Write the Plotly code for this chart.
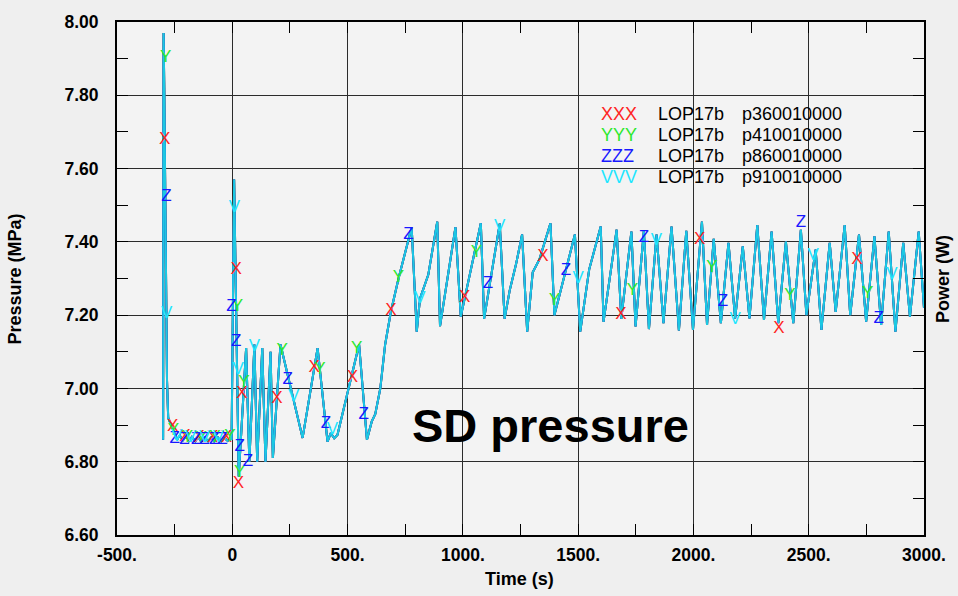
import plotly.graph_objects as go

# ---------------- data ----------------
time_s = [-300, -298, -295, -291, -287, -283, -278, -268, -258, -250,
          -240, -228, -215, -200, -188, -175, -160, -148, -135, -120,
          -105, -92, -78, -62, -48, -34, -20, -8, -3, 8,
          28, 60, 74, 96, 108, 130, 144, 166, 176, 209,
          305, 370, 413, 427, 442, 456, 550, 584, 598, 605,
          620, 642, 663, 688, 721, 778, 800, 814, 850, 889,
          901, 968, 991, 1078, 1092, 1160, 1181, 1203, 1231, 1257,
          1279, 1303, 1332, 1380, 1397, 1486, 1509, 1548, 1598, 1610,
          1667, 1687, 1731, 1749, 1785, 1807, 1840, 1870, 1905, 1937,
          1969, 1998, 2037, 2059, 2088, 2119, 2152, 2181, 2214, 2243,
          2277, 2306, 2339, 2368, 2401, 2433, 2466, 2490, 2530, 2555,
          2591, 2617, 2656, 2680, 2718, 2749, 2785, 2814, 2847, 2876,
          2910, 2939, 2977, 3000]

pressure_mpa = [6.86, 7.97, 7.82, 7.58, 7.30, 7.02, 6.92, 6.905, 6.89, 6.875,
                6.860, 6.872, 6.858, 6.870, 6.857, 6.868, 6.856, 6.868, 6.855, 6.866,
                6.856, 6.866, 6.855, 6.866, 6.856, 6.865, 6.857, 6.866, 6.86, 7.57,
                6.76, 7.11, 6.80, 7.12, 6.80, 7.11, 6.80, 7.10, 6.81, 7.12,
                6.865, 7.11, 6.855, 6.878, 6.864, 6.873, 7.12, 6.86, 6.89, 6.91,
                6.93, 7.00, 7.12, 7.21, 7.30, 7.44, 7.155, 7.245, 7.31, 7.455,
                7.17, 7.44, 7.196, 7.451, 7.19, 7.45, 7.19, 7.267, 7.34, 7.42,
                7.155, 7.317, 7.352, 7.451, 7.20, 7.42, 7.155, 7.325, 7.442, 7.182,
                7.433, 7.19, 7.428, 7.169, 7.43, 7.162, 7.42, 7.178, 7.442, 7.158,
                7.43, 7.16, 7.455, 7.173, 7.408, 7.178, 7.397, 7.191, 7.388, 7.191,
                7.446, 7.187, 7.428, 7.178, 7.401, 7.178, 7.433, 7.20, 7.379, 7.16,
                7.397, 7.209, 7.446, 7.20, 7.42, 7.182, 7.415, 7.173, 7.428, 7.155,
                7.397, 7.196, 7.428, 7.22]

# symbol markers of each curve (time, pressure)
x_mark_t = [-293, -259, -205, -145, -85, -25, 17, 27, 42, 194, 355, 521, 688,
            1008, 1347, 1685, 2027, 2371, 2709]
x_mark_p = [7.678, 6.896, 6.868, 6.866, 6.866, 6.865, 7.323, 6.74, 6.985, 6.972,
            7.057, 7.030, 7.213, 7.248, 7.360, 7.202, 7.406, 7.164, 7.352]

y_mark_t = [-289, -255, -195, -135, -75, -10, 22, 32, 50, 216, 380, 540, 721,
            1059, 1397, 1735, 2080, 2418, 2756]
y_mark_p = [7.903, 6.885, 6.866, 6.864, 6.865, 6.868, 7.224, 6.77, 7.016, 7.104,
            7.052, 7.108, 7.303, 7.37, 7.239, 7.266, 7.330, 7.252, 7.258]

z_mark_t = [-285, -250, -207, -157, -121, -78, -43, -4, 17, 32, 68, 240, 406, 570,
            764, 1109, 1447, 1785, 2128, 2466, 2804]
z_mark_p = [7.522, 6.862, 6.860, 6.860, 6.860, 6.860, 6.860, 7.223, 7.128, 6.842,
            6.801, 7.025, 6.904, 6.927, 7.420, 7.285, 7.321, 7.411, 7.236, 7.451, 7.191]

v_mark_t = [-285, -240, -180, -120, -60, 9, 25, 96, 266, 434, 814, 1160, 1500,
            1840, 2181, 2519, 2861]
v_mark_p = [7.205, 6.868, 6.866, 6.866, 6.866, 7.492, 7.052, 7.115, 6.976, 6.887,
            7.245, 7.442, 7.299, 7.402, 7.187, 7.361, 7.309]

series_names = ["LOP17b   p360010000", "LOP17b   p410010000",
                "LOP17b   p860010000", "LOP17b   p910010000"]
series_symbols = ["X", "Y", "Z", "V"]
series_colors = ["#ff2424", "#2ee82e", "#1818ff", "#1ee6ff"]
line_colors = ["#ff2424", "#2ee82e", "#1818ff", "#1cc8e2"]
marks = [(x_mark_t, x_mark_p), (y_mark_t, y_mark_p),
         (z_mark_t, z_mark_p), (v_mark_t, v_mark_p)]

x_tick_vals = [-500, 0, 500, 1000, 1500, 2000, 2500, 3000]
x_tick_text = ["-500.", "0", "500.", "1000.", "1500.", "2000.", "2500.", "3000."]

# ---------------- figure ----------------
fig = go.Figure()
FONT = "Liberation Sans, Arial, sans-serif"

for i in range(4):
    fig.add_trace(go.Scatter(x=time_s, y=pressure_mpa, mode="lines",
                             line=dict(color=line_colors[i], width=2),
                             hoverinfo="skip", showlegend=False))
for i in range(4):
    mt, mp = marks[i]
    fig.add_trace(go.Scatter(x=mt, y=mp, mode="text",
                             text=[series_symbols[i]] * len(mt),
                             textposition="middle center",
                             textfont=dict(family=FONT, size=17, color=series_colors[i]),
                             hoverinfo="skip", showlegend=False))

axis_common = dict(showline=True, linecolor="black", linewidth=2, mirror="ticks",
                   ticks="inside", ticklen=11, tickwidth=1, tickcolor="black",
                   showgrid=True, gridcolor="#2b2b2b", gridwidth=1, zeroline=False,
                   tickfont=dict(family=FONT, size=17.5, color="black", weight="bold"))

fig.update_xaxes(range=[-500, 3000], tickmode="array", tickvals=x_tick_vals,
                 ticktext=x_tick_text, ticklabelstandoff=3,
                 minor=dict(tickmode="linear", tick0=0, dtick=250, ticks="inside",
                            ticklen=11, tickcolor="black", showgrid=False),
                 **axis_common)
fig.update_yaxes(range=[6.6, 8.0], tickmode="linear", tick0=6.6, dtick=0.2,
                 tickformat=".2f", ticklabelstandoff=13,
                 minor=dict(tickmode="linear", tick0=6.6, dtick=0.1, ticks="inside",
                            ticklen=11, tickcolor="black", showgrid=False),
                 **axis_common)

L, T, W, H = 117, 14, 811.0, 521.0
def px(x):
    return (x - L) / W
def py(y):
    return 1 - (y - T) / H

annotations = []
for i in range(4):
    yy = py(107 + 21.5 * i)
    name, code = series_names[i].split("   ")
    annotations.append(dict(xref="paper", yref="paper", x=px(601), y=yy,
                            xanchor="left", yanchor="middle", showarrow=False,
                            text=series_symbols[i] * 3,
                            font=dict(family=FONT, size=18, color=series_colors[i])))
    annotations.append(dict(xref="paper", yref="paper", x=px(659), y=yy,
                            xanchor="left", yanchor="middle", showarrow=False,
                            text=name, font=dict(family=FONT, size=18, color="black")))
    annotations.append(dict(xref="paper", yref="paper", x=px(743), y=yy,
                            xanchor="left", yanchor="middle", showarrow=False,
                            text=code, font=dict(family=FONT, size=18, color="black")))

annotations += [
    dict(xref="paper", yref="paper", x=px(553), y=py(424),
         xanchor="center", yanchor="middle", showarrow=False, text="SD pressure",
         font=dict(family=FONT, size=47, color="black", weight="bold")),
    dict(xref="paper", yref="paper", x=px(521), y=py(580),
         xanchor="center", yanchor="middle", showarrow=False, text="Time (s)",
         font=dict(family=FONT, size=18, color="black", weight="bold")),
    dict(xref="paper", yref="paper", x=px(14), y=py(275),
         xanchor="center", yanchor="middle", showarrow=False, text="Pressure (MPa)",
         textangle=-90, font=dict(family=FONT, size=18, color="black", weight="bold")),
    dict(xref="paper", yref="paper", x=px(947), y=py(275),
         xanchor="center", yanchor="middle", showarrow=False, text="Power (W)",
         textangle=-90, font=dict(family=FONT, size=18, color="black", weight="bold")),
]

fig.update_layout(width=958, height=596,
                  margin=dict(l=117, r=30, t=14, b=61),
                  paper_bgcolor="#efefef", plot_bgcolor="#f3f3f3",
                  showlegend=False, annotations=annotations,
                  font=dict(family=FONT))

fig.write_html("out.html", config={"displayModeBar": False},
               post_script="document.body.style.margin='0px';"
                           "document.body.style.background='#efefef';")
